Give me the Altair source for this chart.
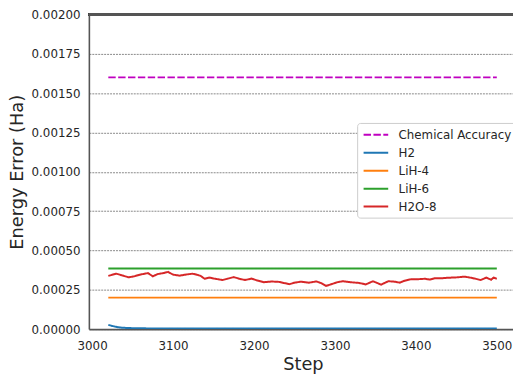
import altair as alt
import pandas as pd

series_names = ["Chemical Accuracy", "H2", "LiH-4", "LiH-6", "H2O-8"]
series_colors = ["#c000c0", "#1f77b4", "#ff7f0e", "#2ca02c", "#d62728"]
series_dashes = [[7.5, 2.5], [1, 0], [1, 0], [1, 0], [1, 0]]

chem_steps = [3020, 3500]
chem_values = [0.0016, 0.0016]

h2_steps = [3020, 3024, 3028, 3032, 3037, 3043, 3050, 3060, 3080, 3500]
h2_values = [0.000027, 0.000021, 0.000016, 0.000012, 0.000009, 0.000007,
             0.000006, 0.000005, 0.000004, 0.000004]

lih4_steps = [3020, 3500]
lih4_values = [0.0002, 0.0002]

lih6_steps = [3020, 3500]
lih6_values = [0.000385, 0.000385]

h2o_steps = [3020, 3030, 3037, 3045, 3052, 3059, 3069, 3075, 3081, 3089,
             3094, 3100, 3108, 3116, 3124, 3130, 3134, 3139, 3145, 3152,
             3161, 3167, 3175, 3182, 3189, 3197, 3203, 3212, 3222, 3231,
             3238, 3244, 3250, 3258, 3268, 3277, 3283, 3289, 3297, 3303,
             3310, 3319, 3329, 3334, 3338, 3347, 3357, 3366, 3374, 3380,
             3386, 3394, 3402, 3411, 3417, 3423, 3432, 3439, 3444, 3452,
             3460, 3467, 3473, 3480, 3487, 3493, 3496, 3500]
h2o_values = [0.0003385, 0.0003522, 0.0003416, 0.0003292, 0.0003354, 0.0003460,
              0.0003559, 0.0003354, 0.0003497, 0.0003571, 0.0003634, 0.0003460,
              0.0003398, 0.0003466, 0.0003522, 0.0003447, 0.0003385, 0.0003199,
              0.0003273, 0.0003199, 0.0003118, 0.0003199, 0.0003304, 0.0003199,
              0.0003118, 0.0003211, 0.0003106, 0.0002981, 0.0003025, 0.0003000,
              0.0002919, 0.0002857, 0.0002950, 0.0003012, 0.0002950, 0.0003031,
              0.0002919, 0.0002745, 0.0002876, 0.0002981, 0.0003043, 0.0002981,
              0.0002938, 0.0002888, 0.0002839, 0.0003043, 0.0002826, 0.0003043,
              0.0003012, 0.0002950, 0.0003075, 0.0003168, 0.0003168, 0.0003199,
              0.0003149, 0.0003230, 0.0003230, 0.0003261, 0.0003273, 0.0003292,
              0.0003335, 0.0003273, 0.0003211, 0.0003118, 0.0003273, 0.0003137,
              0.0003273, 0.0003199]

x_ticks = [3000, 3100, 3200, 3300, 3400, 3500]
y_ticks = [0.0, 0.00025, 0.0005, 0.00075, 0.001, 0.00125, 0.0015, 0.00175, 0.002]

rows = []
for name, steps, vals in [
    ("Chemical Accuracy", chem_steps, chem_values),
    ("H2", h2_steps, h2_values),
    ("LiH-4", lih4_steps, lih4_values),
    ("LiH-6", lih6_steps, lih6_values),
    ("H2O-8", h2o_steps, h2o_values),
]:
    for s, v in zip(steps, vals):
        rows.append({"series": name, "step": s, "value": v})
df = pd.DataFrame(rows)

FONT = "DejaVu Sans"
TXT = "#262626"


def make_legend():
    return alt.Legend(title=None, orient="none", legendX=272, legendY=110,
                      symbolType="M-2.08,0L2.08,0", symbolSize=144,
                      symbolStrokeWidth=2, symbolOffset=7,
                      labelFontSize=12, labelFont=FONT, labelColor=TXT,
                      labelOffset=16, padding=5, rowPadding=5.2,
                      strokeColor="#cccccc", cornerRadius=3, fillColor="#ffffff")


lines = alt.Chart(df).mark_line(strokeWidth=2, clip=True).encode(
    x=alt.X("step:Q",
            scale=alt.Scale(domain=[2996, 3520], nice=False, zero=False),
            axis=alt.Axis(values=x_ticks, format="d", title="Step", grid=False,
                          labelPadding=12, titlePadding=4, titleX=217)),
    y=alt.Y("value:Q",
            scale=alt.Scale(domain=[0, 0.002], nice=False),
            axis=alt.Axis(values=y_ticks, format=".5f", title="Energy Error (Ha)",
                          grid=True, gridDash=[2, 1], gridColor="#888888", gridWidth=1,
                          labelPadding=9, titlePadding=5)),
    color=alt.Color("series:N",
                    scale=alt.Scale(domain=series_names, range=series_colors),
                    legend=make_legend()),
    strokeDash=alt.StrokeDash("series:N",
                              scale=alt.Scale(domain=series_names, range=series_dashes),
                              legend=make_legend()),
)

top_spine = alt.Chart(df).mark_rule(color="#555555", strokeWidth=1.6).encode(
    x=alt.value(0), x2=alt.value(430), y=alt.value(0)
)

chart = alt.layer(lines, top_spine).properties(
    width=430, height=319,
    autosize=alt.AutoSizeParams(type="none"),
    padding={"left": 82, "top": 4, "right": 0, "bottom": 44},
).configure_axis(
    labelFont=FONT, titleFont=FONT, labelFontSize=12, titleFontSize=18,
    labelColor=TXT, titleColor=TXT, titleFontWeight="normal", ticks=False,
    domainColor="#555555", domainWidth=1.6,
).configure_view(stroke=None)

chart.save("out.html", embed_options={"renderer": "svg", "actions": False})
